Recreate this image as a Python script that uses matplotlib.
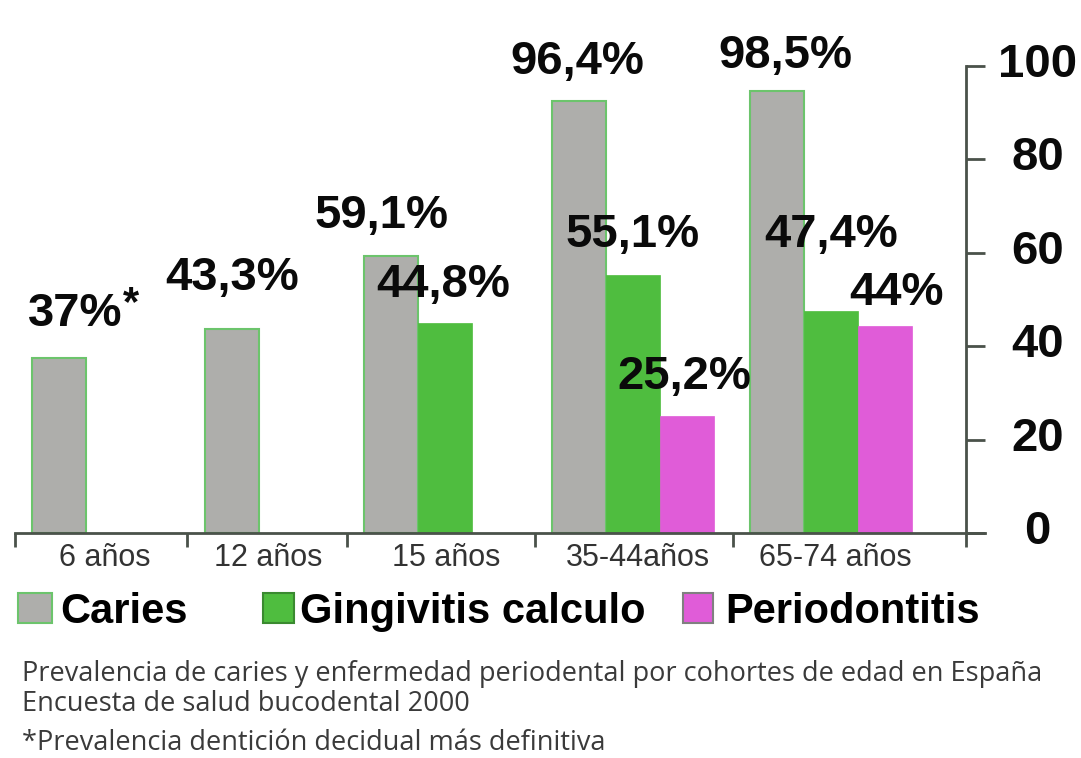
import numpy as np
import matplotlib.pyplot as plt
from matplotlib.patches import Rectangle
from matplotlib.transforms import ScaledTranslation

# ----------------------------------------
# Data
# ----------------------------------------
groups = ["6 años", "12 años", "15 años", "35-44años", "65-74 años"]

# bar heights as drawn (the two oldest caries bars are drawn below their labels)
caries = [37.5, 43.7, 59.3, 92.4, 94.6]
gingivitis = [np.nan, np.nan, 44.9, 55.2, 47.6]
periodontitis = [np.nan, np.nan, np.nan, 25.1, 44.4]

caries_txt = ["37%", "43,3%", "59,1%", "96,4%", "98,5%"]
gingivitis_txt = ["", "", "44,8%", "55,1%", "47,4%"]
periodontitis_txt = ["", "", "", "25,2%", "44%"]

yticks = [0, 20, 40, 60, 80, 100]

# ----------------------------------------
# Layout (x unit = one bar width)
# ----------------------------------------
W, H = 1081, 758
group_edges = np.array([0, 3.19, 6.15, 9.63, 13.3])
axis_end = 17.61
label_x = [1.66, 4.69, 7.98, 11.54, 15.2]

# label offsets in pixels (dx, dy up) from the top centre of each bar
caries_off = [(16, 32), (1, 39), (-10, 28), (-2, 27), (8, 23)]
ging_off = [None, None, (-2, 26), (-1, 28), (0, 64)]
perio_off = [None, None, None, (-3, 27), (11, 21)]

c_gray = "#aeaeab"
c_green = "#4fbd3f"
c_pink = "#e05cd8"
c_edge = "#6cc46c"
c_axis = "#4a524a"

BOLD = dict(family=["Liberation Sans", "DejaVu Sans"], fontweight="bold")

fig = plt.figure(figsize=(W / 100, H / 100), dpi=100)
ax = fig.add_axes([15 / W, 1 - 533 / H, 970 / W, 533 / H])
ax.set_xlim(0, 970 / 54)
ax.set_ylim(0, 533 / 4.67)

x_car = group_edges + 0.82
x_gin = group_edges + 1.82
x_per = group_edges + 2.82

ax.bar(x_car, caries, width=1, color=c_gray, edgecolor=c_edge, linewidth=1.5)
ax.bar(x_gin, gingivitis, width=1, color=c_green, edgecolor=c_green, linewidth=0.5)
ax.bar(x_per, periodontitis, width=1, color=c_pink, edgecolor=c_pink, linewidth=0.5)

# value labels
def put_labels(xs, vals, txts, offs):
    for x, v, t, o in zip(xs, vals, txts, offs):
        if not t:
            continue
        ax.annotate(t, xy=(x, v), xytext=(o[0] * 0.72, o[1] * 0.72),
                    textcoords="offset points", ha="center", va="baseline",
                    fontsize=34, color="#0a0a0a", **BOLD)

put_labels(x_car, caries, caries_txt, caries_off)
put_labels(x_gin, gingivitis, gingivitis_txt, ging_off)
put_labels(x_per, periodontitis, periodontitis_txt, perio_off)
ax.annotate("*", xy=(x_car[0], caries[0]), xytext=(72 * 0.72, 43 * 0.72),
            textcoords="offset points", ha="center", va="baseline",
            fontsize=30, color="#0a0a0a", **BOLD)

# spines
for s in ["top", "left"]:
    ax.spines[s].set_visible(False)
ax.spines["right"].set_position(("data", axis_end))
ax.spines["right"].set_bounds(0, 100)
for s in ["right", "bottom"]:
    ax.spines[s].set_color(c_axis)
    ax.spines[s].set_linewidth(2)

# y axis on the right
ax.yaxis.tick_right()
ax.set_yticks(yticks)
ax.set_yticklabels([str(t) for t in yticks])
ax.tick_params(axis="y", direction="out", length=13.7, width=2, color=c_axis,
               pad=38, labelsize=34, labelcolor="#0a0a0a")
for tick in ax.yaxis.get_major_ticks():
    lab = tick.label2
    lab.set_ha("center")
    lab.set_fontweight("bold")
    lab.set_family(["Liberation Sans", "DejaVu Sans"])
    lab.set_transform(lab.get_transform() + ScaledTranslation(0, 0.06, fig.dpi_scale_trans))

# x axis: boundary ticks + centred category labels
ax.set_xticks(list(group_edges) + [axis_end])
ax.set_xticklabels([])
ax.set_xticks(label_x, minor=True)
ax.set_xticklabels(groups, minor=True)
ax.tick_params(axis="x", which="major", direction="out", length=10, width=2, color=c_axis)
ax.tick_params(axis="x", which="minor", length=0, pad=7, labelsize=22, labelcolor="#333333")
for lab in ax.get_xticklabels(minor=True):
    lab.set_family(["Liberation Sans", "DejaVu Sans"])

# legend drawn by hand
legend_items = [("Caries", c_gray, c_edge, 18, 34, 60),
                ("Gingivitis calculo", c_green, "#3a8a30", 263, 31, 300),
                ("Periodontitis", c_pink, "#808080", 683, 30, 725)]
for name, fc, ec, bx, bw, tx in legend_items:
    fig.add_artist(Rectangle((bx / W, 1 - 623 / H), bw / W, 30 / H,
                             transform=fig.transFigure, facecolor=fc,
                             edgecolor=ec, linewidth=1.5))
    fig.text(tx / W, 1 - 623 / H, name, fontsize=30, va="baseline",
             color="#000000", **BOLD)

# footnotes
NOTE = dict(fontsize=19.5, va="baseline", color="#3a3a3a",
            family=["Open Sans", "DejaVu Sans"])
fig.text(22 / W, 1 - 681 / H,
         "Prevalencia de caries y enfermedad periodental por cohortes de edad en España", **NOTE)
fig.text(22 / W, 1 - 711 / H, "Encuesta de salud bucodental 2000", **NOTE)
fig.text(22 / W, 1 - 750 / H, "*Prevalencia dentición decidual más definitiva", **NOTE)

fig.savefig("out.png", dpi=100, facecolor="white")
